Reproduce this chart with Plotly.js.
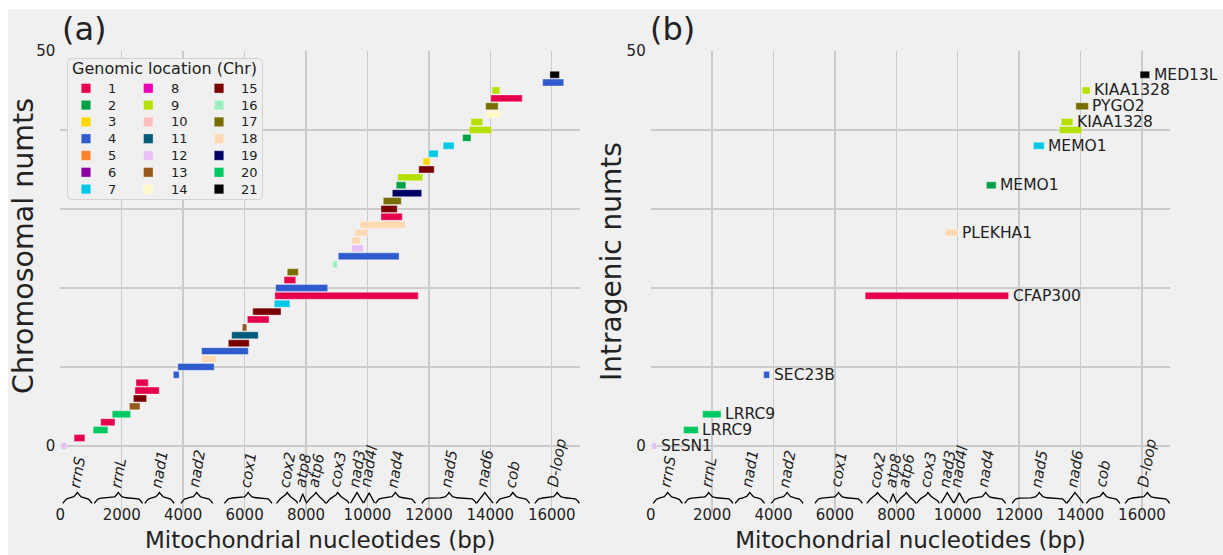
<!DOCTYPE html>
<html><head><meta charset="utf-8">
<script src="https://cdn.plot.ly/plotly-3.0.1.min.js"></script>
<style>
html,body{margin:0;padding:0;background:#ffffff;}
#chart{position:absolute;left:8px;top:9px;width:1215px;height:546px;}
</style></head><body><div id="chart"></div>
<script>
// ---------------- data ----------------
const chromosomes = ['1','2','3','4','5','6','7','8','9','10','11','12','13','14','15','16','17','18','19','20','21'];
const chrColors = ['#e6004c','#00a046','#ffd700','#2f5bcd','#ff8228','#8c00a0','#00c8e6','#ee00b4','#b4e000','#ffbebe','#005a78',
                   '#e8c0f5','#965a1e','#fff8c8','#780000','#9cf0c0','#786e00','#ffd9b3','#000064','#00c864','#000000'];

// chromosomal numts, one per row (row = index)
const numtStart = [35,450,1070,1315,1690,2250,2380,2430,2465,3680,3825,4600,4600,5470,5580,5925,6090,6265,6965,6985,7010,7285,7390,8870,
                   9050,9490,9490,9590,9760,10440,10440,10515,10810,10935,10985,11670,11810,11995,12465,13100,13310,13370,13850,13848,
                   14015,14055,15705,15940];
const numtEnd   = [200,800,1550,1780,2290,2595,2810,3220,2865,3870,5010,5090,6120,6150,6445,6070,6795,7185,7475,11655,8705,7665,7750,9020,
                   11030,9865,9780,10005,11235,11135,10970,11100,11765,11250,11800,12175,12035,12300,12820,13370,14040,13750,14315,14255,
                   15040,14310,16390,16250];
const numtChr   = [12,1,20,1,20,13,15,1,1,4,4,18,4,15,11,13,1,15,7,1,4,1,17,16,
                   4,12,18,18,18,1,15,17,19,2,9,15,3,7,7,2,9,9,14,17,
                   1,9,4,21];

// intragenic numts (rows of the chromosomal list) and host genes
const intraRows  = [0,2,4,9,19,27,33,38,40,41,43,45,47];
const intraGene  = ['SESN1','LRRC9','LRRC9','SEC23B','CFAP300','PLEKHA1','MEMO1','MEMO1','KIAA1328','KIAA1328','PYGO2','KIAA1328','MED13L'];
const intraShown = [true,true,true,true,true,true,true,true,false,true,true,true,true];

// mitochondrial genes
const geneNames = ['rrnS','rrnL','nad1','nad2','cox1','cox2','atp8','atp6','cox3','nad3','nad4l','nad4','nad5','nad6','cob','D-loop'];
const geneStart = [80,1105,2750,3925,5345,7040,7790,8005,8660,9450,9880,10260,11770,13550,14190,15450];
const geneEnd   = [1030,2675,3705,4960,6890,7730,8000,8640,9400,9870,10230,11560,13540,14090,15280,16900];

const xTickVals = [0,2000,4000,6000,8000,10000,12000,14000,16000];
const yTickVals = [0,10,20,30,40,50];
const yTickText = ['0','','','','','50'];

// ---------------- styling constants ----------------
const FONT = 'DejaVu Sans';
const TXT = '#222222';
const GRID = '#cbcbcb';
const BG = '#f0f0f0';
const XR = [0, 16920];
const YR = [-8.5, 50];
const BAR_W = 0.88;
const BRACE_Y0 = -7.975, BRACE_AMP = 1.39;
const GENE_LABEL_Y = -5.75;

const W = 1215, H = 546, MT = 42, MB = 42;
const plotH = H - MT - MB;
const px2fx = p => p / W;
const py2fy = p => (H - MB - p) / plotH;

// ---------------- traces ----------------
const rows = numtStart.map((_, i) => i);
const traces = [];

function barTrace(idx, xa, ya) {
  return {
    type: 'bar', orientation: 'h', xaxis: xa, yaxis: ya,
    y: idx,
    base: idx.map(i => numtStart[i]),
    x: idx.map(i => numtEnd[i] - numtStart[i]),
    width: BAR_W,
    marker: { color: idx.map(i => chrColors[numtChr[i] - 1]), line: { color: 'rgba(255,255,255,0.45)', width: 0.8 } },
    customdata: idx.map(i => 'chr' + numtChr[i]),
    hovertemplate: '%{customdata}: %{base}-%{x}<extra></extra>',
    showlegend: false
  };
}
traces.push(barTrace(rows, 'x', 'y'));
traces.push(barTrace(intraRows, 'x2', 'y2'));

// braces
function braceLine() {
  const xs = [], ys = [];
  const beta = 300 / (XR[1] - XR[0]);
  const n = 60;
  geneNames.forEach((g, k) => {
    const s = geneStart[k], e = geneEnd[k], mid = (s + e) / 2;
    const hx = [], hy = [];
    for (let i = 0; i <= n; i++) {
      const x = s + (mid - s) * i / n;
      hx.push(x);
      hy.push(1 / (1 + Math.exp(-beta * (x - s))) + 1 / (1 + Math.exp(-beta * (x - mid))));
    }
    for (let i = 0; i <= n; i++) { xs.push(hx[i]); ys.push(BRACE_Y0 + BRACE_AMP * hy[i]); }
    for (let i = n - 1; i >= 0; i--) { xs.push(e - (hx[i] - s)); ys.push(BRACE_Y0 + BRACE_AMP * hy[i]); }
    xs.push(null); ys.push(null);
  });
  return { xs, ys };
}
const br = braceLine();
['x', 'x2'].forEach((xa, j) => {
  traces.push({ type: 'scatter', mode: 'lines', x: br.xs, y: br.ys, xaxis: xa, yaxis: j ? 'y2' : 'y',
    line: { color: '#000000', width: 1.3 }, hoverinfo: 'skip', showlegend: false });
});

// legend (drawn on its own small axes)
const LB = { l: 59, t: 49, w: 196, h: 142 };
const colMarkerX = [19, 81.3, 152];
const colLabelX = [38.7, 101.7, 171.7];
const rowY0 = 30.3, rowDY = 16.8;
const legX = [], legY = [], legC = [];
chromosomes.forEach((c, i) => {
  const col = Math.floor(i / 7), r = i % 7;
  legX.push(colMarkerX[col]); legY.push(rowY0 + rowDY * r); legC.push(chrColors[i]);
});
traces.push({ type: 'scatter', mode: 'markers', x: legX, y: legY, xaxis: 'x3', yaxis: 'y3',
  marker: { symbol: 'square', size: 9.5, color: legC, line: { color: 'rgba(255,255,255,0.5)', width: 0.6 } },
  hoverinfo: 'skip', showlegend: false });

// ---------------- annotations ----------------
const ann = [];
// panel letters
ann.push({ text: '(a)', xref: 'paper', yref: 'paper', x: px2fx(76), y: py2fy(20), xanchor: 'center', yanchor: 'middle',
  showarrow: false, font: { family: FONT, size: 32, color: TXT } });
ann.push({ text: '(b)', xref: 'paper', yref: 'paper', x: px2fx(665), y: py2fy(20), xanchor: 'center', yanchor: 'middle',
  showarrow: false, font: { family: FONT, size: 32, color: TXT } });
// y-axis titles
ann.push({ text: 'Chromosomal numts', xref: 'paper', yref: 'paper', x: px2fx(15), y: py2fy(237), xanchor: 'center', yanchor: 'middle',
  textangle: -90, showarrow: false, font: { family: FONT, size: 28.5, color: TXT } });
ann.push({ text: 'Intragenic numts', xref: 'paper', yref: 'paper', x: px2fx(603), y: py2fy(253), xanchor: 'center', yanchor: 'middle',
  textangle: -90, showarrow: false, font: { family: FONT, size: 28, color: TXT } });
// gene labels
['x', 'x2'].forEach((xa, j) => {
  geneNames.forEach((g, k) => {
    ann.push({ text: g, xref: xa, yref: j ? 'y2' : 'y', x: (geneStart[k] + geneEnd[k]) / 2, y: GENE_LABEL_Y,
      xanchor: 'center', yanchor: 'bottom', textangle: -80, showarrow: false,
      font: { family: FONT, size: 15, color: TXT, style: 'italic' } });
  });
});
// intragenic labels
intraRows.forEach((r, k) => {
  if (!intraShown[k]) return;
  ann.push({ text: intraGene[k], xref: 'x2', yref: 'y2', x: numtEnd[r], y: r, xanchor: 'left', yanchor: 'middle',
    xshift: 2, showarrow: false, font: { family: FONT, size: 15.5, color: TXT } });
});
// legend title + labels
ann.push({ text: 'Genomic location (Chr)', xref: 'x3', yref: 'y3', x: 3, y: 11, xanchor: 'left', yanchor: 'middle',
  showarrow: false, font: { family: FONT, size: 16, color: TXT } });
chromosomes.forEach((c, i) => {
  const col = Math.floor(i / 7), r = i % 7;
  ann.push({ text: c, xref: 'x3', yref: 'y3', x: colLabelX[col], y: rowY0 + rowDY * r, xanchor: 'left', yanchor: 'middle',
    showarrow: false, font: { family: FONT, size: 13, color: TXT } });
});

// ---------------- layout ----------------
function xAxis(domain, anchor) {
  return { domain, anchor, range: XR, tickvals: xTickVals, ticktext: xTickVals.map(String), showgrid: true, gridcolor: GRID,
    gridwidth: 1.4, zeroline: false, showline: false, ticks: '', ticklabelstandoff: -9,
    tickfont: { family: FONT, size: 15, color: TXT },
    title: { text: 'Mitochondrial nucleotides (bp)', font: { family: FONT, size: 23, color: TXT }, standoff: 8 },
    fixedrange: true };
}
function yAxis(anchor) {
  return { domain: [0, 1], anchor, range: YR, tickvals: yTickVals, ticktext: yTickText, showgrid: true, gridcolor: GRID,
    gridwidth: 1.4, zeroline: false, showline: false, ticks: '', ticklabelstandoff: 4,
    tickfont: { family: FONT, size: 15, color: TXT }, fixedrange: true };
}

const layout = {
  width: W, height: H,
  margin: { l: 0, r: 0, t: MT, b: MB },
  paper_bgcolor: BG, plot_bgcolor: BG,
  font: { family: FONT, color: TXT },
  showlegend: false,
  barmode: 'overlay',
  xaxis: xAxis([px2fx(52.3), px2fx(572)], 'y'),
  yaxis: yAxis('x'),
  xaxis2: xAxis([px2fx(642.7), px2fx(1162.2)], 'y2'),
  yaxis2: yAxis('x2'),
  xaxis3: { domain: [px2fx(LB.l), px2fx(LB.l + LB.w)], anchor: 'y3', range: [0, LB.w], visible: false, fixedrange: true },
  yaxis3: { domain: [py2fy(LB.t + LB.h), py2fy(LB.t)], anchor: 'x3', range: [LB.h, 0], visible: false, fixedrange: true },
  shapes: [{
    type: 'path', xref: 'x3', yref: 'y3', layer: 'below',
    path: (() => { const r = 4, w = LB.w - 0.5, h = LB.h - 0.5, a = 0.5;
      return `M${a + r},${a} L${w - r},${a} Q${w},${a} ${w},${a + r} L${w},${h - r} Q${w},${h} ${w - r},${h} L${a + r},${h} Q${a},${h} ${a},${h - r} L${a},${a + r} Q${a},${a} ${a + r},${a} Z`; })(),
    fillcolor: BG, line: { color: '#d2d2d2', width: 1 }
  }],
  annotations: ann
};

Plotly.newPlot('chart', traces, layout, { displayModeBar: false, staticPlot: true });
</script></body></html>
